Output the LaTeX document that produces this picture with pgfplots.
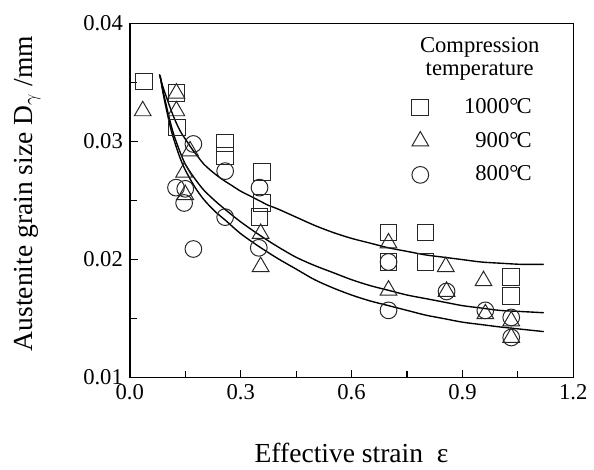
\documentclass[border=0pt]{standalone}
\usepackage{fontspec}
\setmainfont{Liberation Serif}
\usepackage{pgfplots}
\pgfplotsset{compat=1.18}
\begin{document}
\begin{tikzpicture}
\begin{axis}[
  name=ax,
  scale only axis,
  width=225.5pt, height=180pt,
  xmin=0, xmax=1.2, ymin=0.01, ymax=0.04,
  xtick={0,0.3,0.6,0.9,1.2},
  ytick={0.01,0.02,0.03,0.04},
  minor x tick num=1, minor y tick num=1,
  tick align=inside, xtick pos=bottom, ytick pos=left,
  major tick length=4pt, minor tick length=3.5pt,
  every tick/.style={black, line width=0.6pt},
  axis line style={line width=0.8pt},
  scaled y ticks=false,
  /pgf/number format/assume math mode=true,
  xticklabel style={/pgf/number format/fixed, /pgf/number format/fixed zerofill, /pgf/number format/precision=1},
  yticklabel style={/pgf/number format/fixed, /pgf/number format/fixed zerofill, /pgf/number format/precision=2},
  tick label style={font=\fontsize{11.5}{12}\selectfont},
  xlabel={Effective strain\ \ ε},
  ylabel={Austenite grain size D$_{\gamma}$ /mm},
  label style={font=\fontsize{14}{16}\selectfont},
  xlabel style={at={(axis description cs:0.5,0)}, anchor=center, yshift=-38.5pt},
  ylabel style={at={(axis description cs:-0.231,0.52)}, anchor=center},
  legend style={at={(axis description cs:0.622,0.812)}, anchor=north west, draw=none, fill=none,
    font=\fontsize{11.5}{12}\selectfont, row sep=4pt,
    /tikz/every odd column/.append style={column sep=16pt}},
  legend cell align=right,
]
% data points
\addplot[only marks, mark=square, mark size=4.25pt, black!85, mark options={line width=0.5pt}] coordinates {
(0.039,0.0351) (0.126,0.0341) (0.128,0.0312) (0.258,0.0299) (0.258,0.0288)
(0.358,0.0274) (0.358,0.0248) (0.351,0.0236) (0.700,0.0223) (0.700,0.0198)
(0.800,0.0223) (0.800,0.0198) (1.032,0.0185) (1.032,0.0169)
};
\addlegendentry{1000°\kern-0.08em C}
\addplot[only marks, mark=triangle, mark size=4.9pt, black!85, mark options={line width=0.5pt}] coordinates {
(0.035,0.0326) (0.126,0.0341) (0.126,0.0326) (0.163,0.0292) (0.147,0.0274)
(0.150,0.0255) (0.354,0.0222) (0.354,0.0194) (0.700,0.0214) (0.700,0.0174)
(0.855,0.0194) (0.857,0.0173) (0.957,0.0182) (0.962,0.0154) (1.032,0.0148)
(1.032,0.0134)
};
\addlegendentry{900°\kern-0.08em C}
\addplot[only marks, mark=o, mark size=4.25pt, black!85, mark options={line width=0.5pt}] coordinates {
(0.172,0.0298) (0.125,0.0261) (0.150,0.0260) (0.147,0.0248) (0.172,0.0209)
(0.258,0.0275) (0.258,0.0236) (0.351,0.0261) (0.349,0.0210) (0.700,0.0198)
(0.700,0.0157) (0.857,0.0173) (0.962,0.0157) (1.032,0.0151) (1.032,0.0134)
};
\addlegendentry{800°\kern-0.08em C}
% fitted curves (1000, 900, 800)
\addplot[smooth, black, line width=0.7pt, forget plot] coordinates {
(0.080,0.0357) (0.090,0.0346) (0.100,0.0337) (0.110,0.0328) (0.120,0.0320)
(0.130,0.0313) (0.140,0.0307) (0.155,0.0300) (0.170,0.0293) (0.185,0.0287)
(0.200,0.0281) (0.225,0.0274) (0.250,0.0268) (0.275,0.0263) (0.300,0.0258)
(0.325,0.0254) (0.350,0.0250) (0.375,0.0246) (0.400,0.0243) (0.450,0.0236)
(0.500,0.0229) (0.550,0.0223) (0.600,0.0218) (0.650,0.0214) (0.700,0.0210)
(0.750,0.0207) (0.800,0.0204) (0.850,0.0202) (0.900,0.0200) (0.950,0.0198)
(1.000,0.0197) (1.060,0.0196) (1.120,0.0196)
};
\addplot[smooth, black, line width=0.7pt, forget plot] coordinates {
(0.082,0.0356) (0.090,0.0343) (0.100,0.0329) (0.110,0.0316) (0.120,0.0305)
(0.135,0.0292) (0.150,0.0281) (0.175,0.0269) (0.200,0.0259) (0.230,0.0250)
(0.260,0.0242) (0.300,0.0232) (0.350,0.0221) (0.400,0.0211) (0.450,0.0202)
(0.500,0.0195) (0.550,0.0189) (0.600,0.0183) (0.650,0.0178) (0.700,0.0174)
(0.750,0.0170) (0.800,0.0167) (0.850,0.0164) (0.900,0.0161) (0.950,0.0159)
(1.000,0.0157) (1.060,0.0156) (1.120,0.0155)
};
\addplot[smooth, black, line width=0.7pt, forget plot] coordinates {
(0.082,0.0356) (0.090,0.0341) (0.100,0.0326) (0.110,0.0312) (0.120,0.0301)
(0.135,0.0287) (0.150,0.0276) (0.175,0.0262) (0.200,0.0251) (0.230,0.0241)
(0.260,0.0233) (0.300,0.0222) (0.350,0.0211) (0.400,0.0201) (0.450,0.0192)
(0.500,0.0183) (0.550,0.0176) (0.600,0.0170) (0.650,0.0165) (0.700,0.0161)
(0.750,0.0157) (0.800,0.0153) (0.850,0.0150) (0.900,0.0147) (0.950,0.0145)
(1.000,0.0143) (1.060,0.0141) (1.120,0.0139)
};
\node[align=center, font=\fontsize{11.5}{11.5}\selectfont] at (axis description cs:0.789,0.90) {Compression\\temperature};
\end{axis}
\path ([xshift=-66pt,yshift=-45pt]ax.south west) rectangle ([xshift=5.5pt,yshift=12pt]ax.north east);
\end{tikzpicture}
\end{document}
